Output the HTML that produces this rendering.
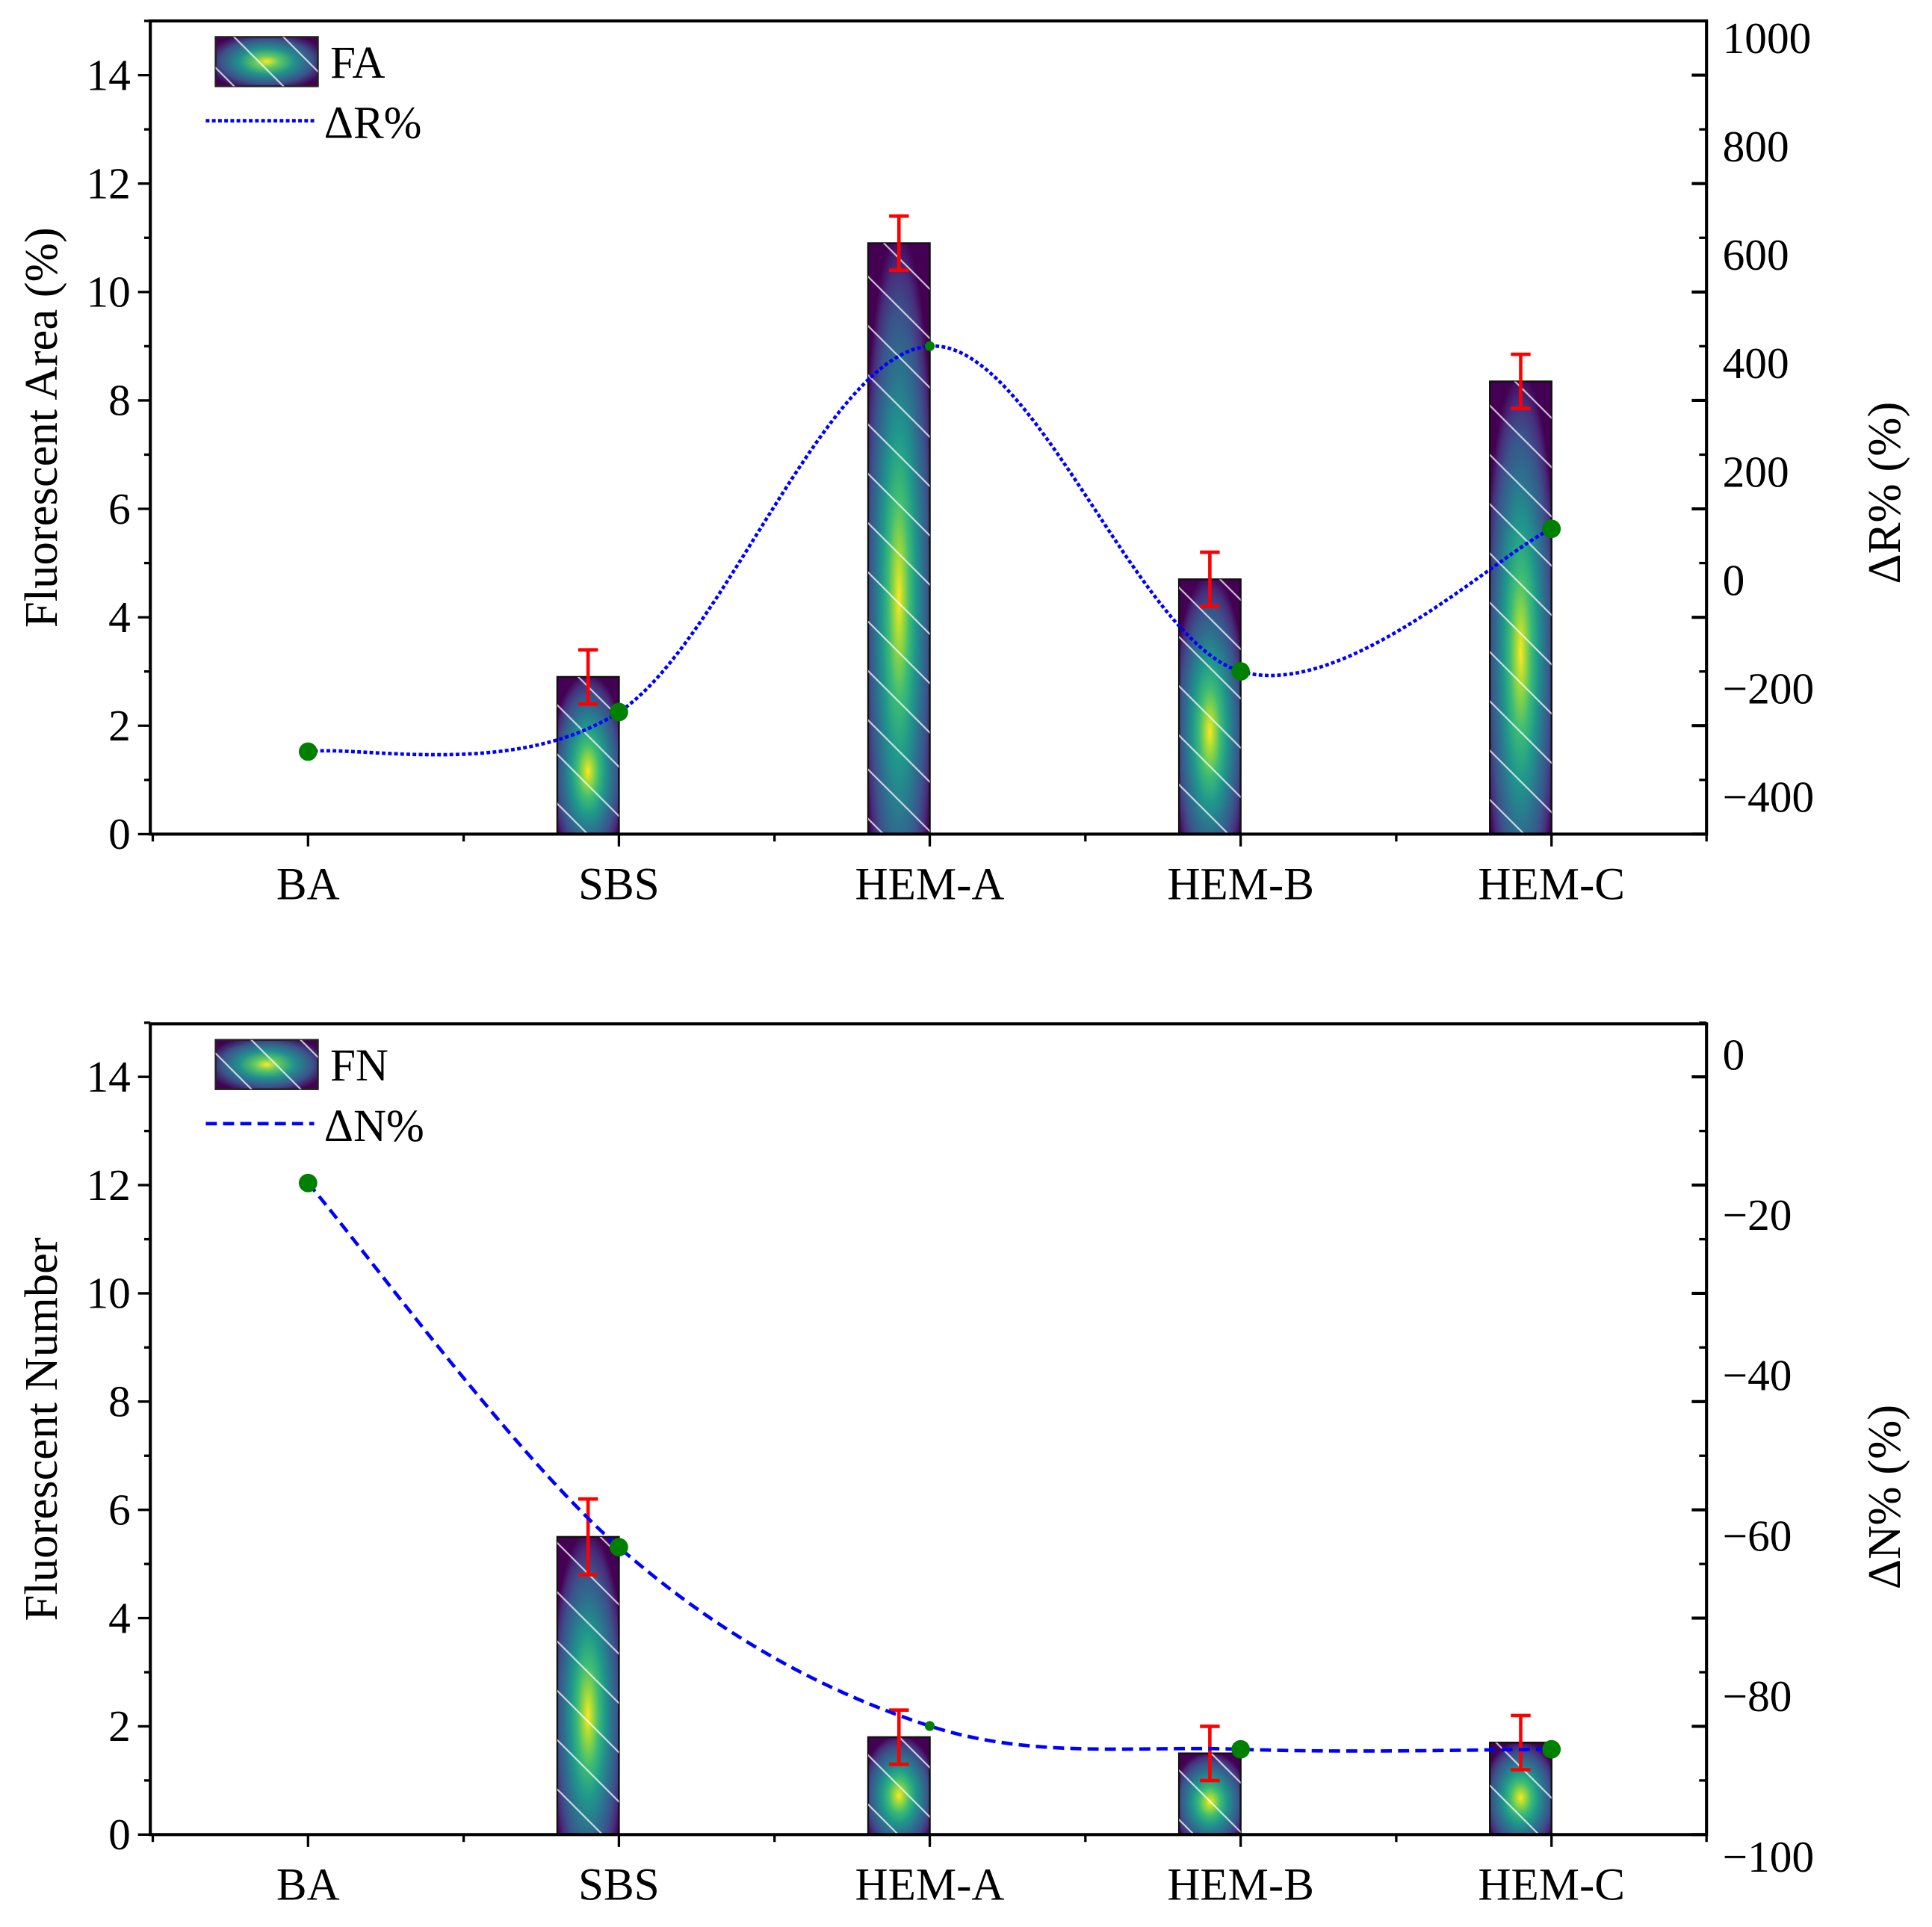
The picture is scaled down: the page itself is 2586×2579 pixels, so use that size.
<!DOCTYPE html>
<html><head><meta charset="utf-8"><style>
html,body{margin:0;padding:0;background:#fff;}
svg{display:block;font-family:"Liberation Serif",serif;}
</style></head><body>
<svg id="chart" width="2586" height="2579" viewBox="0 0 1568 1564" preserveAspectRatio="none" xmlns="http://www.w3.org/2000/svg">
<defs>
<radialGradient id="vir" cx="0.5" cy="0.6" r="0.62" fx="0.5" fy="0.6">
<stop offset="0" stop-color="#fde725"/>
<stop offset="0.12" stop-color="#a0da39"/>
<stop offset="0.28" stop-color="#3dbc74"/>
<stop offset="0.45" stop-color="#1f988b"/>
<stop offset="0.62" stop-color="#2c728e"/>
<stop offset="0.78" stop-color="#3b528b"/>
<stop offset="0.9" stop-color="#472d7b"/>
<stop offset="1" stop-color="#440154"/>
</radialGradient>
<radialGradient id="virL" cx="0.5" cy="0.5" r="0.6">
<stop offset="0" stop-color="#fde725"/>
<stop offset="0.2" stop-color="#5ec962"/>
<stop offset="0.45" stop-color="#21918c"/>
<stop offset="0.75" stop-color="#3b528b"/>
<stop offset="1" stop-color="#440154"/>
</radialGradient>
<pattern id="hatch" patternUnits="userSpaceOnUse" width="40" height="40">
<path d="M-10,-10 L50,50 M-10,30 L10,50 M30,-10 L50,10" stroke="rgba(255,255,255,0.75)" stroke-width="1.3"/>
</pattern>
</defs>
<g id="top"></g>
<g id="bot"></g>
</svg>
<script>
const categories = ["BA","SBS","HEM-A","HEM-B","HEM-C"];
const faValues = [0, 2.9, 10.9, 4.7, 8.35];
const faErrors = [0, 0.5, 0.5, 0.5, 0.5];
const dRValues = [-316, -243, 432, -168, 95];
const fnValues = [0, 5.5, 1.8, 1.5, 1.7];
const fnErrors = [0, 0.7, 0.5, 0.5, 0.5];
const dNValues = [-16, -61.4, -83.7, -86.6, -86.6];
const leftTicks = [0, 2, 4, 6, 8, 10, 12, 14];
const rightTicksR = [-400, -200, 0, 200, 400, 600, 800, 1000];
const rightTicksN = [-100, -80, -60, -40, -20, 0];

const NS = "http://www.w3.org/2000/svg";
function mk(tag, attrs, parent, text){
  const e = document.createElementNS(NS, tag);
  for (const k in attrs) e.setAttribute(k, attrs[k]);
  if (text !== undefined) e.textContent = text;
  parent.appendChild(e);
  return e;
}
const X0 = 122, X1 = 1385;
const catX = i => 250 + i * 252.3;

function smoothPath(pts){
  let d = "M" + pts[0][0] + "," + pts[0][1];
  for (let i = 0; i < pts.length - 1; i++){
    const p0 = pts[i-1] || pts[i], p1 = pts[i], p2 = pts[i+1], p3 = pts[i+2] || pts[i+1];
    const c1 = [p1[0] + (p2[0]-p0[0])/6, p1[1] + (p2[1]-p0[1])/6];
    const c2 = [p2[0] - (p3[0]-p1[0])/6, p2[1] - (p3[1]-p1[1])/6];
    d += " C" + c1 + " " + c2 + " " + p2;
  }
  return d;
}

function panel(g, cfg){
  const yL = v => cfg.yb - v * (cfg.yb - cfg.y14) / 14;
  const yR = v => cfg.r0 - v * cfg.rk;
  cfg.vals.forEach((v, i) => {
    if (v <= 0) return;
    const x = catX(i) - 50, y = yL(v), h = cfg.yb - y;
    const b = mk("rect", {x: x, y: y, width: 50, height: h, fill: "url(#vir)", stroke: "#111", "stroke-width": 1.5}, g);
    
    
    const hb = mk("rect", {x: x, y: y, width: 50, height: h, fill: "url(#hatch)"}, g);
    
    
  });
  cfg.vals.forEach((v, i) => {
    if (v <= 0) return;
    const cx = catX(i) - 25, yt = yL(v + cfg.errs[i]), ybt = yL(v - cfg.errs[i]);
    const eg = mk("g", {stroke: "#ff0000", "stroke-width": 2.8}, g);
    
    
    mk("line", {x1: cx, y1: yt, x2: cx, y2: ybt}, eg);
    mk("line", {x1: cx-8, y1: yt, x2: cx+8, y2: yt}, eg);
    mk("line", {x1: cx-8, y1: ybt, x2: cx+8, y2: ybt}, eg);
  });
  const pts = cfg.line.map((v, i) => [catX(i), yR(v)]);
  const ln = mk("path", {d: smoothPath(pts), fill: "none", stroke: "#0000ff", "stroke-width": 2.8, "stroke-dasharray": cfg.dash}, g);
  
  
  pts.forEach((p, i) => {
    const c = mk("circle", {cx: p[0], cy: p[1], r: i === 2 ? 4 : 7.5, fill: "#008000"}, g);
    
    
  });
  const fr = mk("rect", {x: X0, y: cfg.yt, width: X1 - X0, height: cfg.yb - cfg.yt, fill: "none", stroke: "#000", "stroke-width": 2.5}, g);
  
  
  const step = (cfg.yb - cfg.y14) / 14;
  leftTicks.forEach(v => {
    const y = yL(v);
    mk("line", {x1: X0-10, y1: y, x2: X0, y2: y, stroke: "#000", "stroke-width": 2}, g);
    mk("line", {x1: X0-5, y1: y - step, x2: X0, y2: y - step, stroke: "#000", "stroke-width": 2}, g);
    mk("line", {x1: X1-12, y1: y, x2: X1, y2: y, stroke: "#000", "stroke-width": 2.5}, g);
    mk("line", {x1: X1-6, y1: y - step, x2: X1, y2: y - step, stroke: "#000", "stroke-width": 2}, g);
    const t = mk("text", {x: X0-16, y: y + 12, "font-size": 36, "text-anchor": "end"}, g, String(v));
    
    
  });
  cfg.rticks.forEach(v => {
    const t = mk("text", {x: 1398, y: yR(v) + 12, "font-size": 36}, g, v < 0 ? "\u2212" + Math.abs(v) : String(v));
    
    
  });
  categories.forEach((c, i) => {
    const x = catX(i);
    mk("line", {x1: x, y1: cfg.yb, x2: x, y2: cfg.yb + 10, stroke: "#000", "stroke-width": 2}, g);
    mk("line", {x1: x - 126, y1: cfg.yb, x2: x - 126, y2: cfg.yb + 6, stroke: "#000", "stroke-width": 2}, g);
    const t = mk("text", {x: x, y: cfg.yb + 53, "font-size": 37, "text-anchor": "middle"}, g, c);
    
    
  });
  mk("line", {x1: X1, y1: cfg.yb, x2: X1, y2: cfg.yb + 6, stroke: "#000", "stroke-width": 2}, g);
  const lt = mk("text", {x: 0, y: 0, "font-size": 38, "text-anchor": "middle", transform: "translate(46," + cfg.ltY + ") rotate(-90)"}, g, cfg.ltitle);
  
  
  const rt = mk("text", {x: 0, y: 0, "font-size": 38, "text-anchor": "middle", transform: "translate(1542," + cfg.rtY + ") rotate(-90)"}, g, cfg.rtitle);
  
  
  const lg = mk("g", {}, g);
  
  
  const ly = cfg.yt;
  mk("rect", {x: 175, y: ly + 13, width: 83, height: 40, fill: "url(#virL)", stroke: "#222", "stroke-width": 1.5}, lg);
  mk("rect", {x: 175, y: ly + 13, width: 83, height: 40, fill: "url(#hatch)"}, lg);
  mk("text", {x: 268, y: ly + 46, "font-size": 37}, lg, cfg.barName);
  mk("line", {x1: 167, y1: ly + 81, x2: 255, y2: ly + 81, stroke: "#0000ff", "stroke-width": 2.8, "stroke-dasharray": cfg.dash}, lg);
  mk("text", {x: 263, y: ly + 95, "font-size": 37}, lg, cfg.lineName);
}

panel(document.getElementById("top"), {
  yt: 17, yb: 677, y14: 61, r0: 471, rk: 0.44, vals: faValues, errs: faErrors, line: dRValues,
  rticks: rightTicksR, dash: "3,2", ltitle: "Fluorescent Area (%)", rtitle: "\u0394R%  (%)",
  ltY: 347, rtY: 400, barName: "FA", lineName: "\u0394R%"
});
panel(document.getElementById("bot"), {
  yt: 831, yb: 1489, y14: 874, r0: 856, rk: 6.51, vals: fnValues, errs: fnErrors, line: dNValues,
  rticks: rightTicksN, dash: "9,5", ltitle: "Fluorescent Number", rtitle: "\u0394N%  (%)",
  ltY: 1160, rtY: 1215, barName: "FN", lineName: "\u0394N%"
});
</script>
</body></html>
